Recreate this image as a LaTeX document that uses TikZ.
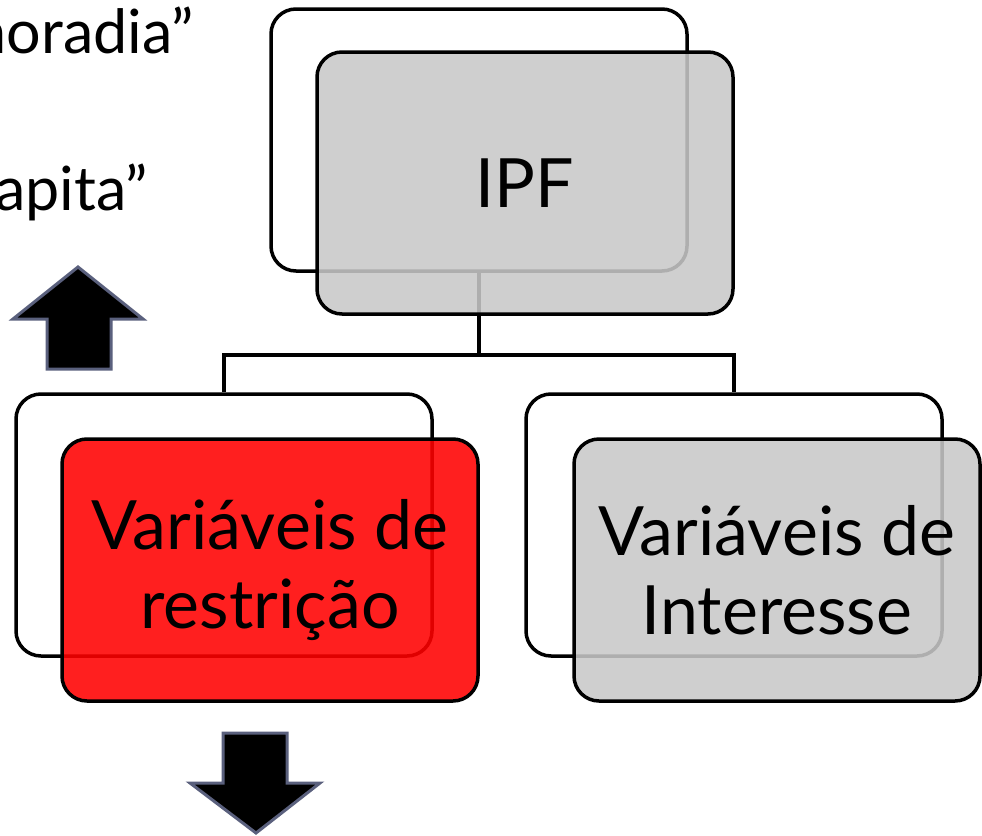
\documentclass[tikz,border=0pt]{standalone}
\usepackage{fontspec}
\setmainfont{Lato}
\usepackage{tikz}
\usetikzlibrary{positioning}

\definecolor{boxgray}{RGB}{200,200,200}
\definecolor{boxred}{RGB}{255,0,0}
\definecolor{arrowedge}{RGB}{90,96,125}

\begin{document}
\begin{tikzpicture}[x=1pt,y=-1pt]
  \tikzstyle{backbox}=[draw,fill=white,rounded corners=25pt,line width=3.5pt,
    minimum width=416pt,minimum height=262pt,inner sep=0pt]
  \tikzstyle{frontbox}=[backbox,fill=boxgray,fill opacity=0.87,text opacity=1,
    align=center,font=\fontsize{68}{79}\selectfont]
  \tikzstyle{sidetext}=[anchor=base east,inner sep=0pt,font=\fontsize{61}{64}\selectfont]
  \tikzstyle{bigarrow}=[fill=black,draw=arrowedge,line width=3pt,line join=miter]
  \fill[white] (0,0) rectangle (982,835);
  \useasboundingbox (0,0) rectangle (982,835);
  \clip (0,0) rectangle (982,835);
  % texts on the left
  \node[sidetext] (moradia) at (194,53) {moradia”};
  \node[sidetext] (capita) at (148,210) {capita”};
  % back boxes
  \node[backbox] (ipfback) at (479,140) {};
  \node[backbox] (restback) at (224,525) {};
  \node[backbox] (intback) at (734,525) {};
  % connectors
  \coordinate (bus) at (0,355);
  \draw[line width=3.5pt] (ipfback.south) -- (ipfback.south |- bus);
  \draw[line width=3.5pt] (restback.north) -- (restback.north |- bus)
    -- (intback.north |- bus) -- (intback.north);
  % front boxes
  \node[frontbox] (ipf) at (525,183) {IPF};
  \node[frontbox,fill=boxred,fill opacity=0.88] (rest) at (270,570) {Variáveis de\\restrição};
  \node[frontbox,minimum width=406pt] (int) at (777,570) {Variáveis de\\Interesse};
  % arrows
  \draw[bigarrow] (78,267) -- (143,319) -- (111,319) -- (111,369) -- (47,369)
    -- (47,319) -- (13,319) -- cycle;
  \draw[bigarrow] (223,733) -- (287,733) -- (287,783) -- (320,783) -- (256,833)
    -- (190,783) -- (223,783) -- cycle;
\end{tikzpicture}
\end{document}
